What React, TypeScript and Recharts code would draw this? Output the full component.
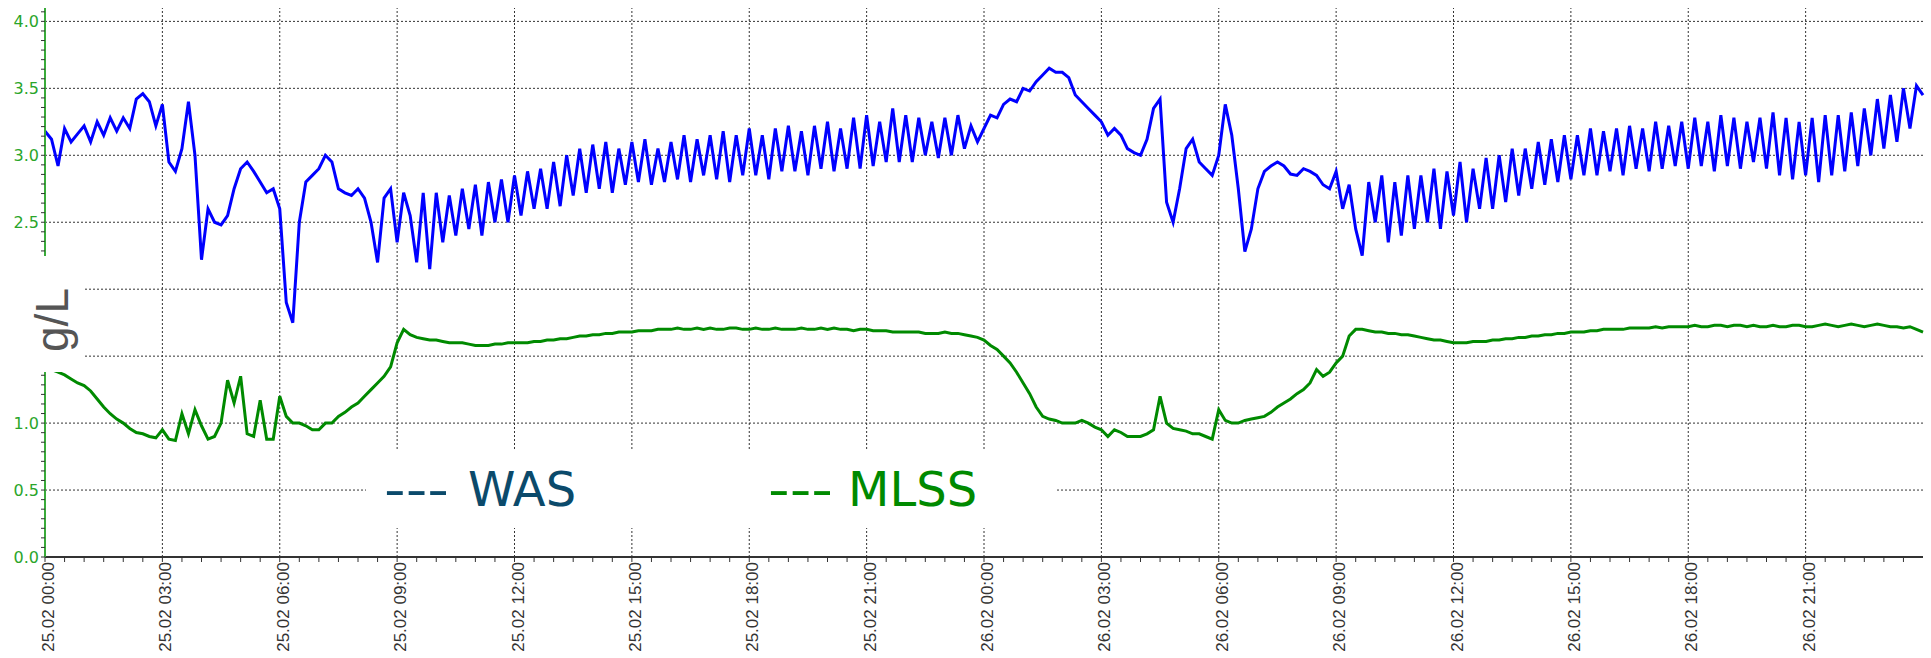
import React from 'react';
import { LineChart, Line, XAxis, YAxis, ReferenceLine } from 'recharts';

const W = 1931;
const H = 658;

const xTickLabels = [
  '25.02 00:00', '25.02 03:00', '25.02 06:00', '25.02 09:00', '25.02 12:00', '25.02 15:00',
  '25.02 18:00', '25.02 21:00', '26.02 00:00', '26.02 03:00', '26.02 06:00', '26.02 09:00',
  '26.02 12:00', '26.02 15:00', '26.02 18:00', '26.02 21:00',
];
const yTickLabels = ['0.0', '0.5', '1.0', '1.5', '2.0', '2.5', '3.0', '3.5', '4.0'];

// WAS (blue), 10-minute samples, one row per hour
const was = [
  3.18, 3.12, 2.92, 3.2, 3.1, 3.16,
  3.22, 3.1, 3.25, 3.15, 3.28, 3.18,
  3.28, 3.2, 3.42, 3.46, 3.4, 3.22,
  3.38, 2.95, 2.88, 3.05, 3.4, 3.0,
  2.22, 2.6, 2.5, 2.48, 2.55, 2.75,
  2.9, 2.95, 2.88, 2.8, 2.72, 2.75,
  2.6, 1.9, 1.75, 2.5, 2.8, 2.85,
  2.9, 3.0, 2.95, 2.75, 2.72, 2.7,
  2.75, 2.68, 2.5, 2.2, 2.68, 2.75,
  2.35, 2.72, 2.55, 2.2, 2.72, 2.15,
  2.72, 2.35, 2.7, 2.4, 2.75, 2.45,
  2.78, 2.4, 2.8, 2.5, 2.82, 2.5,
  2.85, 2.55, 2.88, 2.6, 2.9, 2.6,
  2.95, 2.62, 3.0, 2.7, 3.05, 2.72,
  3.08, 2.75, 3.1, 2.72, 3.05, 2.78,
  3.1, 2.8, 3.12, 2.78, 3.05, 2.8,
  3.1, 2.82, 3.15, 2.8, 3.12, 2.85,
  3.15, 2.82, 3.18, 2.8, 3.15, 2.85,
  3.2, 2.85, 3.15, 2.82, 3.2, 2.88,
  3.22, 2.88, 3.18, 2.85, 3.22, 2.9,
  3.25, 2.88, 3.2, 2.9, 3.28, 2.9,
  3.3, 2.92, 3.25, 2.95, 3.35, 2.95,
  3.3, 2.95, 3.28, 3.0, 3.25, 2.98,
  3.28, 3.0, 3.3, 3.05, 3.22, 3.1,
  3.2, 3.3, 3.28, 3.38, 3.42, 3.4,
  3.5, 3.48, 3.55, 3.6, 3.65, 3.62,
  3.62, 3.58, 3.45, 3.4, 3.35, 3.3,
  3.25, 3.15, 3.2, 3.15, 3.05, 3.02,
  3.0, 3.12, 3.35, 3.42, 2.65, 2.5,
  2.75, 3.05, 3.12, 2.95, 2.9, 2.85,
  3.0, 3.38, 3.15, 2.75, 2.28, 2.45,
  2.75, 2.88, 2.92, 2.95, 2.92, 2.86,
  2.85, 2.9, 2.88, 2.85, 2.78, 2.75,
  2.88, 2.6, 2.78, 2.45, 2.25, 2.8,
  2.5, 2.85, 2.35, 2.8, 2.4, 2.85,
  2.45, 2.85, 2.5, 2.9, 2.45, 2.88,
  2.55, 2.95, 2.5, 2.9, 2.6, 2.98,
  2.6, 3.0, 2.65, 3.05, 2.7, 3.05,
  2.75, 3.1, 2.78, 3.12, 2.8, 3.15,
  2.82, 3.15, 2.85, 3.2, 2.85, 3.18,
  2.88, 3.2, 2.85, 3.22, 2.9, 3.2,
  2.88, 3.25, 2.9, 3.22, 2.92, 3.25,
  2.9, 3.28, 2.92, 3.25, 2.88, 3.3,
  2.92, 3.28, 2.9, 3.25, 2.95, 3.28,
  2.9, 3.32, 2.85, 3.28, 2.82, 3.25,
  2.85, 3.28, 2.8, 3.3, 2.85, 3.3,
  2.88, 3.32, 2.92, 3.35, 3.0, 3.42,
  3.05, 3.45, 3.1, 3.5, 3.2, 3.52,
  3.45,
];

// MLSS (green), 10-minute samples, one row per hour
const mlss = [
  1.4, 1.4, 1.38, 1.36, 1.33, 1.3,
  1.28, 1.24, 1.18, 1.12, 1.07, 1.03,
  1.0, 0.96, 0.93, 0.92, 0.9, 0.89,
  0.95, 0.88, 0.87, 1.07, 0.92, 1.1,
  0.98, 0.88, 0.9, 1.0, 1.32, 1.15,
  1.35, 0.92, 0.9, 1.17, 0.88, 0.88,
  1.2, 1.05, 1.0, 1.0, 0.98, 0.95,
  0.95, 1.0, 1.0, 1.05, 1.08, 1.12,
  1.15, 1.2, 1.25, 1.3, 1.35, 1.42,
  1.6, 1.7, 1.66, 1.64, 1.63, 1.62,
  1.62, 1.61, 1.6, 1.6, 1.6, 1.59,
  1.58, 1.58, 1.58, 1.59, 1.59, 1.6,
  1.6, 1.6, 1.6, 1.61, 1.61, 1.62,
  1.62, 1.63, 1.63, 1.64, 1.65, 1.65,
  1.66, 1.66, 1.67, 1.67, 1.68, 1.68,
  1.68, 1.69, 1.69, 1.69, 1.7, 1.7,
  1.7, 1.71, 1.7, 1.7, 1.71, 1.7,
  1.71, 1.7, 1.7, 1.71, 1.71, 1.7,
  1.7, 1.71, 1.7, 1.7, 1.71, 1.7,
  1.7, 1.7, 1.71, 1.7, 1.7, 1.71,
  1.7, 1.71, 1.7, 1.7, 1.69, 1.7,
  1.7, 1.69, 1.69, 1.69, 1.68, 1.68,
  1.68, 1.68, 1.68, 1.67, 1.67, 1.67,
  1.68, 1.67, 1.67, 1.66, 1.65, 1.64,
  1.62, 1.58, 1.55, 1.5, 1.45, 1.38,
  1.3, 1.22, 1.12, 1.05, 1.03, 1.02,
  1.0, 1.0, 1.0, 1.02, 1.0, 0.97,
  0.95, 0.9, 0.95, 0.93, 0.9, 0.9,
  0.9, 0.92, 0.95, 1.2, 1.0, 0.96,
  0.95, 0.94, 0.92, 0.92, 0.9, 0.88,
  1.1, 1.02, 1.0, 1.0, 1.02, 1.03,
  1.04, 1.05, 1.08, 1.12, 1.15, 1.18,
  1.22, 1.25, 1.3, 1.4, 1.35, 1.38,
  1.45, 1.5, 1.65, 1.7, 1.7, 1.69,
  1.68, 1.68, 1.67, 1.67, 1.66, 1.66,
  1.65, 1.64, 1.63, 1.62, 1.62, 1.61,
  1.6, 1.6, 1.6, 1.61, 1.61, 1.61,
  1.62, 1.62, 1.63, 1.63, 1.64, 1.64,
  1.65, 1.65, 1.66, 1.66, 1.67, 1.67,
  1.68, 1.68, 1.68, 1.69, 1.69, 1.7,
  1.7, 1.7, 1.7, 1.71, 1.71, 1.71,
  1.71, 1.72, 1.71, 1.72, 1.72, 1.72,
  1.72, 1.73, 1.72, 1.72, 1.73, 1.73,
  1.72, 1.73, 1.73, 1.72, 1.73, 1.72,
  1.72, 1.73, 1.72, 1.72, 1.73, 1.73,
  1.72, 1.72, 1.73, 1.74, 1.73, 1.72,
  1.73, 1.74, 1.73, 1.72, 1.73, 1.74,
  1.73, 1.72, 1.72, 1.71, 1.72, 1.7,
  1.68,
];

const hours = was.map((_, i) => i / 6);
const wasData = hours.map((t, i) => ({ t, v: was[i] }));
const mlssData = hours.map((t, i) => ({ t, v: mlss[i] }));

const xMinorTicks = Array.from({ length: 96 }, (_, i) => i * 0.5);
const yMinorTicks = Array.from({ length: 58 }, (_, i) => (i * 0.5) / 7);
const xGrid = xTickLabels.map((_, i) => i * 3).filter((v) => v > 0);
const yGrid = yTickLabels.map((_, i) => i * 0.5).filter((v) => v > 0);

const XTick = (props: any) => {
  const { x, y, payload } = props;
  const v = payload.value;
  const idx = Math.round(v / 3);
  if (Math.abs(v - idx * 3) > 1e-6 || idx >= xTickLabels.length) return <g />;
  return (
    <g transform={`translate(${x},${y})`}>
      <text transform="rotate(-90)" x={0} y={9} textAnchor="end" fontFamily="Liberation Sans" fontSize={17} fill="#333">
        {xTickLabels[idx]}
      </text>
    </g>
  );
};

const YTick = (props: any) => {
  const { x, y, payload } = props;
  const v = payload.value;
  const idx = Math.round(v / 0.5);
  if (Math.abs(v - idx * 0.5) > 1e-6 || idx >= yTickLabels.length) return <g />;
  return (
    <text x={x - 2} y={y} dy="0.36em" textAnchor="end" fontFamily="DejaVu Sans" fontSize={16} fill="#2aa52a">
      {yTickLabels[idx]}
    </text>
  );
};

export default function App() {
  return (
    <div style={{ position: 'absolute', left: 0, top: 0, width: W, height: H, background: '#fff' }}>
      <LineChart width={W} height={H} margin={{ top: 8, right: 8, left: 0, bottom: 0 }}>
        <XAxis
          dataKey="t"
          type="number"
          domain={[0, 48]}
          ticks={xMinorTicks}
          interval={0}
          tick={XTick}
          tickSize={5}
          tickMargin={0}
          height={101}
          axisLine={{ stroke: '#333', strokeWidth: 2 }}
          tickLine={{ stroke: '#333' }}
        />
        <YAxis
          type="number"
          domain={[0, 4.1]}
          ticks={yMinorTicks}
          interval={0}
          tick={YTick}
          tickSize={4}
          tickMargin={0}
          width={45}
          axisLine={{ stroke: '#3aaa3a', strokeWidth: 2 }}
          tickLine={{ stroke: '#333' }}
        />
        {yGrid.map((v) => (
          <ReferenceLine key={'h' + v} y={v} stroke="#333" strokeDasharray="2 2" />
        ))}
        {xGrid.map((v) => (
          <ReferenceLine key={'v' + v} x={v} stroke="#333" strokeDasharray="2 2" />
        ))}
        <Line data={mlssData} dataKey="v" type="linear" stroke="#008a00" strokeWidth={3} dot={false} isAnimationActive={false} />
        <Line data={wasData} dataKey="v" type="linear" stroke="#0000ff" strokeWidth={3} dot={false} isAnimationActive={false} />
      </LineChart>
      <svg width={W} height={H} style={{ position: 'absolute', left: 0, top: 0, pointerEvents: 'none' }}>
        <rect x={0} y={256} width={83} height={116} fill="#fff" />
        <text transform="translate(68,320) rotate(-90)" textAnchor="middle" fontFamily="Liberation Sans" fontSize={46} fill="#555">
          g/L
        </text>
        <rect x={366} y={450} width={689} height={78} fill="#fff" />
        <text x={384} y={506} fontFamily="DejaVu Sans" fontSize={48} fill="#0b4a6b" textLength={65} lengthAdjust="spacingAndGlyphs">
          ---
        </text>
        <text x={468} y={506} fontFamily="DejaVu Sans" fontSize={48} fill="#0b4a6b">
          WAS
        </text>
        <text x={768} y={506} fontFamily="DejaVu Sans" fontSize={48} fill="#008a00" textLength={65} lengthAdjust="spacingAndGlyphs">
          ---
        </text>
        <text x={848} y={506} fontFamily="DejaVu Sans" fontSize={48} fill="#008a00">
          MLSS
        </text>
      </svg>
    </div>
  );
}
